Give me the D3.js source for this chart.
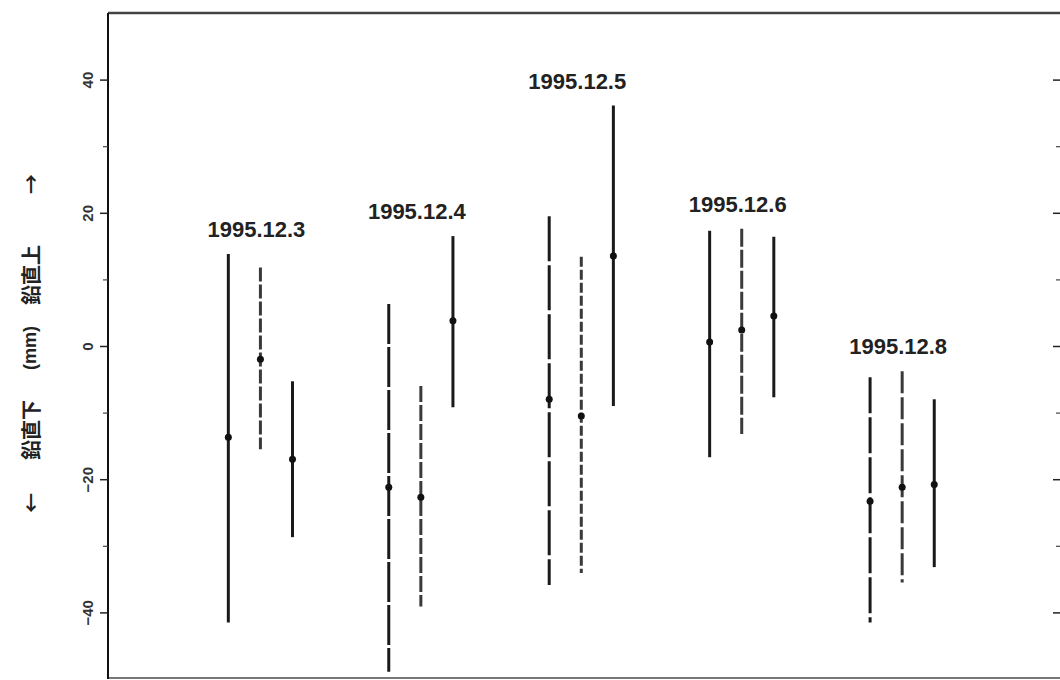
<script src="https://cdn.jsdelivr.net/npm/d3@7"></script>
<style>
  body { margin: 0; background: #fff; }
  svg { display: block; }
</style>
<div id="chart"></div>
<script>
// survey days and the three readings (upper end, mean, lower end) per day, in mm
const days = ["1995.12.3", "1995.12.4", "1995.12.5", "1995.12.6", "1995.12.8"];
const upper = [[13.8, 11.8, -5.3], [6.3, -6.0, 16.5], [19.5, 13.4, 36.1], [17.3, 17.6, 16.4], [-4.7, -3.8, -8.0]];
const mean  = [[-13.7, -2.0, -17.0], [-21.2, -22.7, 3.8], [-8.0, -10.5, 13.5], [0.6, 2.4, 4.5], [-23.3, -21.2, -20.8]];
const lower = [[-41.5, -15.5, -28.7], [-48.9, -39.1, -9.2], [-35.9, -34.1, -9.0], [-16.7, -13.2, -7.7], [-41.5, -35.5, -33.2]];
const yTicks = [-40, -20, 0, 20, 40];

// line style of each bar (scan look)
const dash = [[null, "14,3", null], ["40,3", "16,3", null], ["45,4", "10,3", null], [null, "18,3", null], ["36,4", "22,4", null]];

const W = 1060, H = 680;
const mLeft = 108, mRight = 1061, mTop = 13, mBottom = 679;

const svg = d3.select("#chart").append("svg")
  .attr("width", W).attr("height", H);

const x = d3.scaleLinear().domain([0.05, 5.99]).range([mLeft, mRight]);
const y = d3.scaleLinear().domain([-50, 50]).range([mBottom, mTop]);
const offs = [-0.2, 0, 0.2];

// frame
svg.append("line").attr("x1", mLeft).attr("x2", W).attr("y1", mTop).attr("y2", mTop)
  .attr("stroke", "#444").attr("stroke-width", 2.5);
svg.append("line").attr("x1", mLeft).attr("x2", W).attr("y1", mBottom - 1).attr("y2", mBottom - 1)
  .attr("stroke", "#777").attr("stroke-width", 2);
svg.append("line").attr("x1", mLeft).attr("x2", mLeft).attr("y1", mTop).attr("y2", mBottom)
  .attr("stroke", "#111").attr("stroke-width", 2);

// left axis
const yAxis = d3.axisLeft(y).tickValues(yTicks).tickSize(8).tickPadding(6);
const ga = svg.append("g").attr("transform", `translate(${mLeft},0)`).call(yAxis);
ga.select(".domain").remove();
ga.selectAll(".tick line").attr("stroke", "#222").attr("stroke-width", 1.5);
ga.selectAll(".tick text")
  .attr("font-family", "Liberation Sans, Arial, sans-serif")
  .attr("font-size", 15).attr("font-weight", "bold").attr("fill", "#333")
  .attr("text-anchor", "middle").attr("dy", null).attr("x", null)
  .attr("transform", d => `translate(-21,0) rotate(-90)`)
  .attr("dominant-baseline", "central");
svg.append("g").attr("transform", `translate(${mLeft},0)`)
  .call(d3.axisLeft(y).tickValues([-30, -10, 10, 30]).tickSize(5).tickFormat(""))
  .call(g => g.select(".domain").remove())
  .selectAll(".tick line").attr("stroke", "#444").attr("stroke-width", 1.2);

// right axis ticks (inside)
svg.append("g").attr("transform", `translate(${mRight},0)`)
  .call(d3.axisRight(y).tickValues(yTicks).tickSize(-8).tickFormat(""))
  .call(g => g.select(".domain").remove())
  .selectAll(".tick line").attr("stroke", "#222").attr("stroke-width", 1.5);
svg.append("g").attr("transform", `translate(${mRight},0)`)
  .call(d3.axisRight(y).tickValues([-30, -10, 10, 30]).tickSize(-5).tickFormat(""))
  .call(g => g.select(".domain").remove())
  .selectAll(".tick line").attr("stroke", "#444").attr("stroke-width", 1.2);

// y title
const yt = [
  { t: "\u2190", c: 503, s: 20, f: "Noto Sans CJK JP, sans-serif" },
  { t: "鉛直下", c: 430, s: 20, f: "Noto Sans CJK JP, sans-serif" },
  { t: "(mm)", c: 348, s: 18, f: "Liberation Sans, Arial, sans-serif" },
  { t: "鉛直上", c: 275, s: 20, f: "Noto Sans CJK JP, sans-serif" },
  { t: "\u2192", c: 184, s: 20, f: "Noto Sans CJK JP, sans-serif" }
];
svg.selectAll("text.ytitle").data(yt).join("text")
  .attr("class", "ytitle")
  .attr("transform", d => `translate(30,${d.c}) rotate(-90)`)
  .attr("text-anchor", "middle").attr("dominant-baseline", "central")
  .attr("font-family", d => d.f)
  .attr("font-size", d => d.s).attr("font-weight", "bold").attr("fill", "#222")
  .text(d => d.t);

// bars
const bars = [];
days.forEach((d, i) => offs.forEach((o, k) => bars.push({
  pos: i + 1 + o, hi: upper[i][k], m: mean[i][k], lo: lower[i][k], dash: dash[i][k], mid: k === 1
})));

svg.selectAll("line.bar").data(bars).join("line")
  .attr("class", "bar")
  .attr("x1", d => x(d.pos)).attr("x2", d => x(d.pos))
  .attr("y1", d => y(d.hi)).attr("y2", d => y(d.lo))
  .attr("stroke", d => d.mid ? "#3a3a3a" : "#1a1a1a")
  .attr("stroke-width", 3)
  .attr("stroke-dasharray", d => d.dash);

svg.selectAll("circle.mean").data(bars).join("circle")
  .attr("class", "mean")
  .attr("cx", d => x(d.pos)).attr("cy", d => y(d.m))
  .attr("r", 3.5).attr("fill", "#111");

// day labels
svg.selectAll("text.day").data(days).join("text")
  .attr("class", "day")
  .attr("x", (d, i) => x(i + 1) - 4)
  .attr("y", (d, i) => y(d3.max(upper[i])) - 17)
  .attr("text-anchor", "middle")
  .attr("font-family", "Liberation Sans, Arial, sans-serif")
  .attr("font-size", 22).attr("font-weight", "bold").attr("fill", "#222")
  .text(d => d);
</script>
